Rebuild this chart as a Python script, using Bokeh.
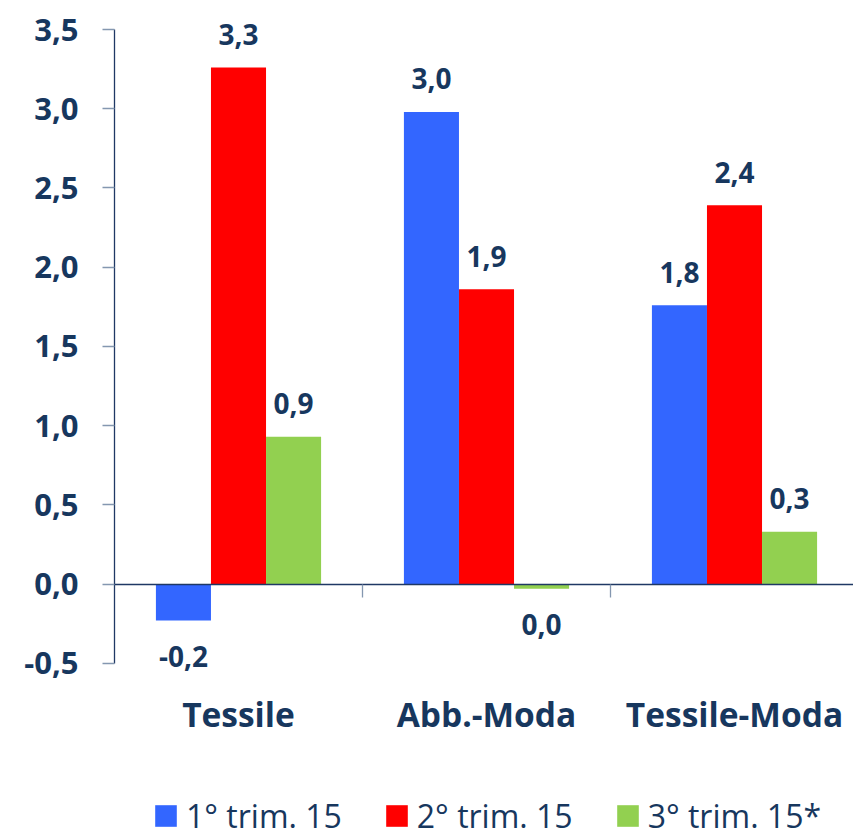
from bokeh.plotting import figure
from bokeh.models import (ColumnDataSource, Range1d, FixedTicker, CustomJSTickFormatter,
                          LinearAxis, Legend, LegendItem)
from bokeh.core.properties import value
from bokeh.embed import file_html
from bokeh.resources import INLINE

# ---- data ----
categories = ["Tessile", "Abb.-Moda", "Tessile-Moda"]
series_names = ["1° trim. 15", "2° trim. 15", "3° trim. 15*"]
q1 = [-0.23, 2.98, 1.76]
q2 = [3.26, 1.86, 2.39]
q3 = [0.93, -0.03, 0.33]
y_ticks = [-0.5, 0.0, 0.5, 1.0, 1.5, 2.0, 2.5, 3.0, 3.5]

colors = ["#3366FF", "#FF0000", "#92D050"]
NAVY = "#17375E"
AXIS_NAVY = "#1F3864"
TICK_GREY = "#8497B0"
FONT = "Open Sans"

series = [q1, q2, q3]
n = len(categories)
bar_w = 0.222
offsets = [-bar_w, 0.0, bar_w]
y_min, y_max = y_ticks[0], y_ticks[-1]


def fmt(v):
    s = f"{v:.1f}"
    if s == "-0.0":
        s = "0.0"
    return s.replace(".", ",")


p = figure(width=853, height=837, output_backend="svg", toolbar_location=None,
           x_range=Range1d(0, 739 / 248), y_range=Range1d(-1.6, 3.62),
           min_border_left=114, min_border_right=0, min_border_top=10, min_border_bottom=0)
p.outline_line_color = None
p.xgrid.visible = False
p.ygrid.visible = False
p.background_fill_color = "white"
p.border_fill_color = "white"

items = []
for s_idx, vals in enumerate(series):
    xs = [i + 0.5 + offsets[s_idx] for i in range(n)]
    src = ColumnDataSource(dict(
        x=xs, top=vals,
        label=[fmt(v) for v in vals],
        yoff=[-33 if v >= 0 else 36 for v in vals],
    ))
    r = p.vbar(x="x", top="top", bottom=0, width=bar_w, source=src,
               fill_color=colors[s_idx], line_color=None)
    p.text(x="x", y="top", text="label", source=src, y_offset="yoff",
           text_align="center", text_baseline="middle",
           text_font=value(FONT), text_font_style="bold", text_font_size="28px",
           text_color=NAVY)
    items.append(LegendItem(label=series_names[s_idx], renderers=[r]))

# y axis
ya = p.yaxis[0]
ya.ticker = FixedTicker(ticks=y_ticks)
ya.bounds = (y_min, y_max)
ya.formatter = CustomJSTickFormatter(code="return tick.toFixed(1).replace('.', ',')")
ya.major_label_text_font = FONT
ya.major_label_text_font_style = "bold"
ya.major_label_text_font_size = "31px"
ya.major_label_text_color = NAVY
ya.major_label_standoff = 24
ya.axis_line_color = AXIS_NAVY
ya.axis_line_width = 1.3
ya.major_tick_line_color = TICK_GREY
ya.major_tick_line_width = 1.3
ya.major_tick_in = 0
ya.major_tick_out = 12
ya.minor_tick_line_color = None

# category labels axis, fixed below the lowest y tick
xa = p.xaxis[0]
centers = [i + 0.5 for i in range(n)]
xa.fixed_location = y_min
xa.ticker = FixedTicker(ticks=centers)
xa.major_label_overrides = {c: name for c, name in zip(centers, categories)}
xa.axis_line_color = None
xa.major_tick_line_color = None
xa.major_tick_in = 0
xa.major_tick_out = 0
xa.minor_tick_line_color = None
xa.major_label_text_font = FONT
xa.major_label_text_font_style = "bold"
xa.major_label_text_font_size = "33.5px"
xa.major_label_text_color = NAVY
xa.major_label_standoff = 28

# zero line axis with category separator ticks
zero_axis = LinearAxis(fixed_location=0, ticker=FixedTicker(ticks=list(range(1, n))))
zero_axis.axis_line_color = AXIS_NAVY
zero_axis.axis_line_width = 1.3
zero_axis.major_tick_line_color = TICK_GREY
zero_axis.major_tick_line_width = 1.3
zero_axis.major_tick_in = 0
zero_axis.major_tick_out = 13
zero_axis.minor_tick_line_color = None
zero_axis.major_label_text_font_size = "0px"
zero_axis.major_label_text_color = None
p.add_layout(zero_axis, "below")

legend = Legend(items=items, orientation="horizontal", location=(38, 0),
                glyph_width=27, glyph_height=27, label_standoff=7, spacing=41,
                padding=0, margin=0, border_line_color=None, background_fill_alpha=0,
                label_text_font=FONT, label_text_font_size="32px", label_text_color=NAVY)
p.add_layout(legend)

open("out.html", "w").write(file_html(p, INLINE))
